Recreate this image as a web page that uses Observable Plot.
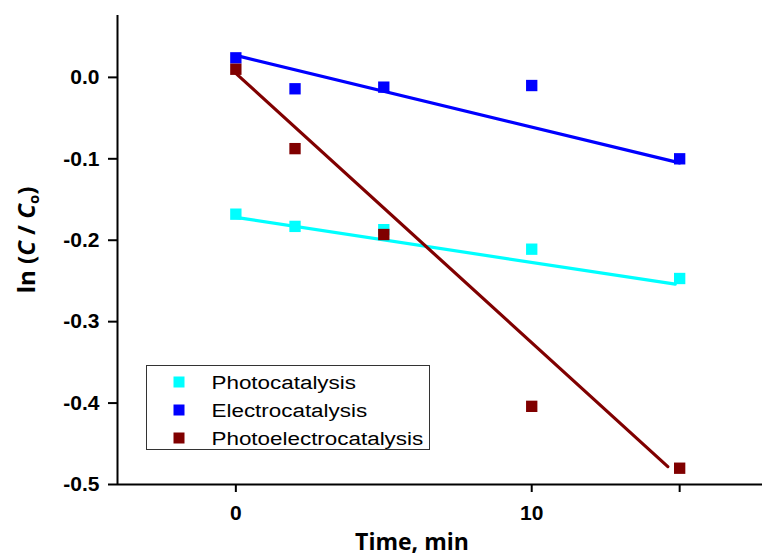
<!DOCTYPE html>
<html>
<head>
<meta charset="utf-8">
<script src="https://cdn.jsdelivr.net/npm/d3@7"></script>
<script src="https://cdn.jsdelivr.net/npm/@observablehq/plot@0.6"></script>
<style>
  html, body { margin: 0; padding: 0; background: #ffffff; }
  #chart svg { display: block; }
</style>
</head>
<body>
<div id="chart"></div>
<script>
// ---- data ----
const series = ["Photocatalysis", "Electrocatalysis", "Photoelectrocatalysis"];
const colors = ["#00FFFF", "#0000FF", "#800000"];
const times = [0, 2, 5, 10, 15];
const photo = [-0.168, -0.183, -0.187, -0.211, -0.247];
const electro = [0.024, -0.014, -0.012, -0.010, -0.100];
const photoelectro = [0.010, -0.0875, -0.193, -0.404, -0.480];
// linear fit lines (start/end)
const fitX = [[0, 14.85], [0, 15], [0, 14.6]];
const fitY = [[-0.172, -0.254], [0.027, -0.105], [0.005, -0.478]];
const xTicks = [0, 10, 15];
const xTickLabels = ["0", "10", ""];
const yTicks = [0, -0.1, -0.2, -0.3, -0.4, -0.5];
const yTickLabels = ["0.0", "-0.1", "-0.2", "-0.3", "-0.4", "-0.5"];

const values = [photo, electro, photoelectro];
const points = [];
series.forEach((s, i) => times.forEach((t, j) => points.push({series: s, t, v: values[i][j]})));
const fits = [];
series.forEach((s, i) => fitX[i].forEach((x, j) => fits.push({series: s, t: x, v: fitY[i][j]})));

const xFmt = (d) => xTickLabels[xTicks.indexOf(d)];
const yFmt = (d) => yTickLabels[yTicks.indexOf(d)];

const plot = Plot.plot({
  width: 763,
  height: 556,
  marginLeft: 117,
  marginRight: 1,
  marginTop: 15,
  marginBottom: 72,
  style: {background: "#ffffff", fontFamily: "'Liberation Sans', Arial, sans-serif"},
  x: {domain: [-4, 17.8], label: null},
  y: {domain: [-0.5, 0.076], label: null},
  color: {domain: series, range: colors},
  marks: [
    Plot.axisX({ticks: xTicks, tickFormat: xFmt, tickSize: 8, tickPadding: 13, fontSize: 21, fontWeight: "bold", fill: "#000", stroke: "#000", strokeWidth: 2, label: null}),
    Plot.axisY({ticks: yTicks, tickFormat: yFmt, tickSize: 9, tickPadding: 9, fontSize: 21, fontWeight: "bold", fill: "#000", stroke: "#000", strokeWidth: 2, label: null}),
    Plot.ruleX([-4], {stroke: "#000", strokeWidth: 2}),
    Plot.ruleY([-0.5], {stroke: "#000", strokeWidth: 2}),
    Plot.line(fits, {x: "t", y: "v", z: "series", stroke: "series", strokeWidth: 3.2}),
    Plot.dot(points, {x: "t", y: "v", fill: "series", symbol: "square", r: 6.4, stroke: "none"})
  ]
});

const svg = d3.select(plot);

// y axis title with italic C and subscript o
const yt = svg.append("text")
  .attr("transform", "translate(35,240) rotate(-90)")
  .attr("text-anchor", "middle")
  .attr("font-family", "'Open Sans', sans-serif")
  .attr("font-weight", "bold")
  .attr("font-size", 24)
  .attr("fill", "#000");
yt.append("tspan").text("ln (");
yt.append("tspan").attr("font-style", "italic").text("C");
yt.append("tspan").text(" / ");
yt.append("tspan").attr("font-style", "italic").text("C");
yt.append("tspan").attr("font-size", 15).attr("dy", 4).text("o");
yt.append("tspan").attr("dy", -4).text(")");

// x axis title
svg.append("text")
  .attr("x", 412).attr("y", 550)
  .attr("text-anchor", "middle")
  .attr("font-family", "'Open Sans', sans-serif")
  .attr("font-weight", "bold")
  .attr("font-size", 23)
  .attr("fill", "#000")
  .text("Time, min");

// legend
const lg = svg.append("g").attr("text-anchor", "start");
lg.append("rect").attr("x", 146.5).attr("y", 365.5).attr("width", 283).attr("height", 84)
  .attr("fill", "#ffffff").attr("stroke", "#333").attr("stroke-width", 1);
series.forEach((s, i) => {
  const cy = 382 + i * 28;
  lg.append("rect").attr("x", 173.5).attr("y", cy - 5.5).attr("width", 11).attr("height", 11).attr("fill", colors[i]);
  lg.append("text")
    .attr("transform", `translate(211.5,${cy + 6.5}) scale(1.18,1)`)
    .attr("text-anchor", "start")
    .attr("font-family", "'Liberation Sans', Arial, sans-serif")
    .attr("font-size", 19).attr("fill", "#000").text(s);
});

document.getElementById("chart").appendChild(plot);
</script>
</body>
</html>
